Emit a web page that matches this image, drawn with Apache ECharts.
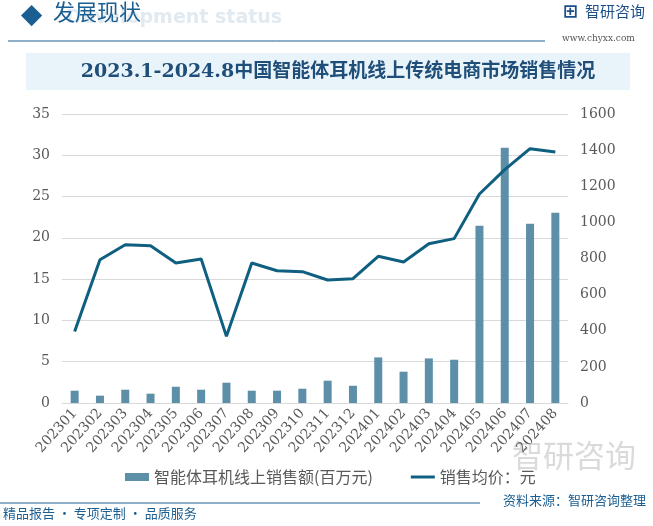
<!DOCTYPE html>
<html>
<head>
<meta charset="utf-8">
<script src="https://cdn.jsdelivr.net/npm/echarts@6/dist/echarts.min.js"></script>
<style>
  html, body { margin: 0; padding: 0; background: #fff; }
  #chart { width: 653px; height: 526px; }
</style>
</head>
<body>
<div id="chart"></div>
<script>
// 月份
var months = ['202301', '202302', '202303', '202304', '202305', '202306', '202307', '202308', '202309', '202310',
  '202311', '202312', '202401', '202402', '202403', '202404', '202405', '202406', '202407', '202408'];
// 智能体耳机线上销售额(百万元)
var salesAmount = [1.49, 0.89, 1.61, 1.13, 1.97, 1.61, 2.46, 1.49, 1.49, 1.73,
  2.70, 2.09, 5.52, 3.79, 5.40, 5.24, 21.47, 30.9, 21.7, 23.04];
// 销售均价：元
var avgPrice = [396, 793, 876, 871, 775, 797, 369, 775, 732, 727,
  681, 688, 812, 781, 882, 910, 1157, 1292, 1408, 1390];

var leftTicks = { min: 0, max: 35, interval: 5 };
var rightTicks = { min: 0, max: 1600, interval: 200 };

var barColor = '#5d8fa8';
var lineColor = '#0e5f80';
var labelColor = '#595959';
var serif = '"DejaVu Serif", "Liberation Serif", serif';

var chart = echarts.init(document.getElementById('chart'));

var option = {
  animation: false,
  backgroundColor: '#fff',
  grid: { left: 62, right: 85, top: 114, bottom: 123 },
  legend: {
    bottom: 36,
    left: 120,
    itemGap: 38,
    itemWidth: 24,
    itemHeight: 8,
    textStyle: { color: labelColor, fontSize: 16, fontFamily: 'Noto Sans CJK SC' },
    data: [
      { name: '智能体耳机线上销售额(百万元)', icon: 'rect' },
      { name: '销售均价：元', icon: 'path://M0,0 L0,0 M0,2.5 L24,2.5 L24,5.5 L0,5.5 Z M24,8 L24,8' }
    ]
  },
  graphic: [
    // header
    { type: 'rect', left: 21, top: 5, shape: { width: 15, height: 15 }, rotation: Math.PI / 4,
      originX: 7.5, originY: 7.5, style: { fill: '#1b5f92' } },
    { type: 'text', left: 66, top: 9, style: { text: 'Development status', fill: '#e2eaf1',
      font: 'bold 19px "DejaVu Sans"' } },
    { type: 'text', left: 53, top: 1, style: { text: '发展现状', fill: '#1b5f92',
      font: '22px "Noto Sans CJK SC"' } },
    { type: 'line', shape: { x1: 8, y1: 41, x2: 545, y2: 41 }, style: { stroke: '#1b5f92', lineWidth: 1 } },
    { type: 'text', left: 563, top: 3, style: { text: '⊞', fill: '#1b4f8a', font: 'bold 18px "DejaVu Sans"' } },
    { type: 'text', left: 585, top: 4, style: { text: '智研咨询', fill: '#1b4f8a',
      font: '15px "Noto Sans CJK SC"' } },
    { type: 'text', left: 562, top: 34, style: { text: 'www.chyxx.com', fill: '#555',
      font: '9px "DejaVu Serif"' } },
    // title box
    { type: 'rect', shape: { x: 26, y: 53, width: 604, height: 37 }, style: { fill: '#e9f3fa' } },
    { type: 'text', x: 338, y: 72, style: { text: '2023.1-2024.8中国智能体耳机线上传统电商市场销售情况',
      fill: '#1f4e79', align: 'center', verticalAlign: 'middle',
      font: 'bold 19px "DejaVu Serif", "Noto Sans CJK SC"' } },
    // watermark
    { type: 'text', left: 512, top: 440, style: { text: '智研咨询', fill: 'rgba(150,150,150,0.35)',
      font: '31px "Noto Sans CJK SC"' } },
    // footer
    { type: 'line', shape: { x1: 0, y1: 503, x2: 480, y2: 503 }, style: { stroke: '#1b5f92', lineWidth: 1 } },
    { type: 'text', left: 3, top: 507, style: { text: '精品报告 · 专项定制 · 品质服务', fill: '#1b5f92',
      font: '13px "Noto Sans CJK SC"' } },
    { type: 'text', right: 7, top: 494, style: { text: '资料来源：智研咨询整理', fill: '#1b5f92',
      font: '13px "Noto Sans CJK SC"' } }
  ],
  xAxis: {
    type: 'category',
    data: months,
    axisTick: { show: false },
    axisLine: { lineStyle: { color: '#d9d9d9', width: 1 } },
    axisLabel: { rotate: 48, interval: 0, color: labelColor, fontSize: 14, fontFamily: serif, margin: 8 }
  },
  yAxis: [
    {
      type: 'value',
      min: leftTicks.min, max: leftTicks.max, interval: leftTicks.interval,
      axisLine: { show: false },
      axisTick: { show: false },
      axisLabel: { color: labelColor, fontSize: 14, fontFamily: serif, margin: 12 },
      splitLine: { lineStyle: { color: '#d9d9d9', width: 1 } }
    },
    {
      type: 'value',
      min: rightTicks.min, max: rightTicks.max, interval: rightTicks.interval,
      axisLine: { show: false },
      axisTick: { show: false },
      axisLabel: { color: labelColor, fontSize: 14, fontFamily: serif, margin: 12,
        formatter: function (v) { return String(v); } },
      splitLine: { show: false }
    }
  ],
  series: [
    {
      name: '智能体耳机线上销售额(百万元)',
      type: 'bar',
      yAxisIndex: 0,
      data: salesAmount,
      barWidth: 8,
      itemStyle: { color: barColor }
    },
    {
      name: '销售均价：元',
      type: 'line',
      yAxisIndex: 1,
      data: avgPrice,
      symbol: 'none',
      lineStyle: { color: lineColor, width: 3 },
      itemStyle: { color: lineColor }
    }
  ]
};

chart.setOption(option);
</script>
</body>
</html>
